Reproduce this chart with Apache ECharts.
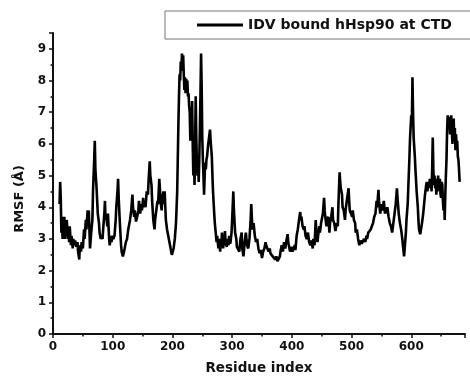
<!DOCTYPE html>
<html>
<head>
<meta charset="utf-8">
<script src="https://cdn.jsdelivr.net/npm/echarts@6/dist/echarts.min.js"></script>
<style>
  html, body { margin: 0; padding: 0; background: #fff; }
  #chart { width: 470px; height: 380px; }
</style>
</head>
<body>
<div id="chart"></div>
<script>
// Per-residue RMSF of IDV-bound hHsp90 (C-terminal domain run)
const residues = [11,12,13,14,15,16,17,18,19,20,21,22,23,25,26,27,28,30,31,33,34,36,37,39,41,42,44,45,47,48,50,52,53,55,56,58,59,60,62,64,66,67,69,70,71,73,75,77,78,80,81,83,84,86,87,88,89,91,92,94,95,97,98,100,101,103,105,106,108,109,110,112,114,115,117,119,120,122,124,126,128,129,131,133,134,136,137,139,141,143,144,146,148,149,151,152,154,155,157,159,160,162,163,165,166,168,170,171,173,175,176,178,179,180,182,183,185,186,187,189,191,193,196,198,199,201,202,204,206,208,210,211,212,213,214,215,216,217,218,219,220,221,222,223,224,225,226,227,228,229,230,231,232,233,234,235,236,237,238,239,240,241,242,243,244,245,246,247,248,249,250,251,252,253,254,255,256,257,258,260,262,263,264,266,267,268,270,271,273,274,275,277,278,279,280,281,282,283,285,286,287,288,289,291,292,294,295,297,299,300,302,303,305,307,308,310,312,314,316,317,319,321,323,325,327,329,331,332,333,334,336,338,340,342,344,346,348,350,352,354,356,357,359,361,363,364,366,368,370,372,374,376,378,380,381,383,385,387,389,391,393,394,396,397,399,401,403,405,406,408,410,412,414,415,416,418,420,421,423,425,427,429,431,433,435,436,438,440,441,443,444,446,447,449,451,452,454,455,456,458,459,461,463,464,466,468,469,471,473,475,477,478,480,481,482,484,485,487,489,490,492,495,496,497,499,501,502,504,506,507,509,511,513,515,517,519,521,523,525,526,528,530,532,534,536,538,540,542,543,545,546,548,550,552,554,556,557,558,560,562,564,566,568,570,572,574,576,577,579,581,583,585,586,588,589,591,592,594,595,597,598,600,601,602,603,604,606,607,609,611,612,613,615,616,618,620,622,623,625,626,627,629,630,631,632,633,634,635,636,637,638,639,640,641,642,643,644,645,646,648,649,650,651,652,653,654,655,656,657,658,659,660,661,662,663,664,665,666,667,668,669,670,671,672,673,674,675,676,677,678,679,680,681];
const rmsf = [4.1,4.8,4.3,3.2,3.7,3.0,3.6,3.2,3.7,3.0,3.5,3.1,3.6,3.0,3.4,2.9,3.4,2.8,3.1,2.7,3.0,2.8,2.95,2.75,2.9,2.6,2.35,2.8,2.6,2.9,2.7,3.3,3.0,3.6,3.3,3.9,3.5,3.9,2.7,3.2,3.6,4.5,5.5,6.1,5.2,4.6,3.8,3.5,3.2,3.0,3.1,3.0,3.3,3.8,4.2,3.6,3.8,3.4,3.8,3.0,2.8,3.1,2.9,3.1,3.0,3.1,3.6,4.0,4.5,4.9,4.3,3.5,2.8,2.6,2.45,2.6,2.7,2.9,3.0,3.3,3.3,3.6,3.9,4.4,4.0,3.7,3.9,3.55,3.7,3.9,4.2,3.8,4.1,3.9,4.3,4.0,4.2,4.0,4.5,4.4,4.8,5.45,5.0,4.7,4.2,3.6,3.3,3.6,3.9,4.2,4.1,4.9,4.6,4.2,3.9,4.3,4.5,4.1,4.5,3.6,3.3,3.1,2.8,2.6,2.5,2.5,2.7,3.0,3.5,4.5,6.6,7.5,8.2,8.0,8.6,8.3,8.85,8.5,8.8,8.2,7.7,8.1,7.6,8.05,7.8,8.0,7.5,7.6,7.2,7.0,6.1,7.0,6.5,7.35,6.0,5.0,5.8,4.7,6.0,7.5,6.2,5.4,5.0,5.6,4.8,5.5,6.5,7.6,8.85,7.8,6.2,5.5,5.0,4.4,5.0,5.4,5.2,5.5,5.6,6.0,6.3,6.45,6.1,5.6,5.0,4.5,3.8,3.5,3.1,2.9,3.1,2.7,3.0,2.8,2.6,3.0,2.8,3.2,2.7,3.0,2.8,3.25,2.9,2.75,3.0,2.8,3.1,2.85,3.2,3.6,4.5,3.9,3.2,3.0,2.75,2.8,2.6,3.0,3.2,2.7,2.45,2.9,3.2,2.8,2.7,3.0,3.6,4.1,3.7,3.3,3.5,3.1,2.9,3.0,2.7,2.55,2.65,2.4,2.6,2.7,2.9,2.8,2.75,2.6,2.7,2.55,2.6,2.45,2.5,2.35,2.45,2.3,2.25,2.45,2.6,2.8,2.6,2.9,2.7,2.95,3.15,2.9,2.85,2.6,2.75,2.6,2.55,2.8,2.65,3.1,3.3,3.6,3.85,3.6,3.7,3.4,3.3,3.4,3.1,3.0,3.2,2.9,2.8,2.95,2.7,3.0,2.8,3.6,3.2,2.9,3.1,3.4,3.2,3.5,3.7,3.8,4.3,3.9,3.7,3.4,3.6,3.7,3.2,3.5,3.7,4.0,3.6,3.5,3.25,3.5,3.4,4.1,5.1,4.8,4.6,4.4,4.0,3.9,3.6,3.9,4.2,4.6,4.2,3.9,3.8,3.7,3.9,3.6,3.5,3.2,3.3,3.0,2.8,2.95,2.85,2.8,3.0,2.9,3.1,3.0,3.2,3.2,3.3,3.4,3.5,3.7,3.8,4.2,4.0,4.55,4.2,3.8,4.1,3.9,4.2,3.8,4.0,3.8,4.0,3.7,3.5,3.4,3.2,3.5,3.8,4.1,4.6,4.3,3.8,3.5,3.3,3.0,2.8,2.45,2.7,3.2,3.6,4.1,4.6,5.6,6.2,6.9,6.6,8.1,7.0,6.2,5.6,5.2,4.5,4.0,3.6,3.3,3.15,3.1,3.5,3.8,4.2,4.4,4.7,4.8,4.5,4.8,4.6,4.9,4.7,4.9,4.5,5.2,6.2,5.2,4.7,5.0,4.6,4.9,4.4,4.8,4.5,5.0,4.6,4.9,4.4,4.3,4.8,4.7,4.2,3.9,4.3,3.6,4.4,5.0,5.5,6.4,6.9,6.5,6.85,6.7,6.3,6.8,6.9,6.4,6.0,6.6,6.8,6.2,6.5,5.8,6.3,5.9,6.1,5.6,5.5,5.2,4.8];

const seriesName = 'IDV bound hHsp90 at CTD';
const xTitle = 'Residue index';
const yTitle = 'RMSF (Å)';

const FONT = 'DejaVu Sans';
const INK = '#111';

const chart = echarts.init(document.getElementById('chart'), null, { renderer: 'canvas' });

chart.setOption({
  backgroundColor: '#fff',
  animation: false,
  grid: { left: 53, right: 5, top: 33, bottom: 42, containLabel: false },
  legend: {
    left: 165,
    top: 11,
    padding: [6, 40, 6, 32],
    itemWidth: 46,
    itemHeight: 3,
    icon: 'rect',
    borderColor: '#777',
    borderWidth: 1,
    textStyle: { fontFamily: FONT, fontWeight: 'bold', fontSize: 14, color: INK, lineHeight: 16 },
    data: [seriesName]
  },
  xAxis: {
    type: 'value',
    min: 0,
    max: 690,
    interval: 100,
    name: xTitle,
    nameLocation: 'middle',
    nameGap: 27,
    nameTextStyle: { fontFamily: FONT, fontWeight: 'bold', fontSize: 13.5, color: INK },
    axisLine: { show: true, onZero: false, lineStyle: { color: INK, width: 2 } },
    axisTick: { show: true, length: 4, lineStyle: { color: INK, width: 1.5 } },
    minorTick: { show: true, splitNumber: 2, length: 2.5, lineStyle: { color: INK, width: 1.5 } },
    axisLabel: { showMaxLabel: false, margin: 7, fontFamily: FONT, fontWeight: 'bold', fontSize: 12, color: INK },
    splitLine: { show: false }
  },
  yAxis: {
    type: 'value',
    min: 0,
    max: 9.5,
    interval: 1,
    axisLine: { show: true, onZero: false, lineStyle: { color: INK, width: 2 } },
    axisTick: { show: true, length: 4, lineStyle: { color: INK, width: 1.5 } },
    minorTick: { show: true, splitNumber: 2, length: 2.5, lineStyle: { color: INK, width: 1.5 } },
    axisLabel: {
      showMaxLabel: false, margin: 7, fontFamily: FONT, fontWeight: 'bold', fontSize: 12, color: INK,
      formatter: v => (Number.isInteger(v) ? String(v) : '')
    },
    splitLine: { show: false }
  },
  graphic: [{
    type: 'text',
    x: 20,
    y: 199,
    rotation: Math.PI / 2,
    style: {
      text: yTitle,
      fontFamily: FONT,
      fontWeight: 'bold',
      fontSize: 13,
      fill: INK,
      align: 'center',
      verticalAlign: 'middle'
    }
  }],
  series: [{
    name: seriesName,
    type: 'line',
    symbol: 'none',
    smooth: false,
    lineStyle: { color: '#000', width: 2.6 },
    itemStyle: { color: '#000' },
    data: residues.map((r, i) => [r, rmsf[i]])
  }]
});
</script>
</body>
</html>
